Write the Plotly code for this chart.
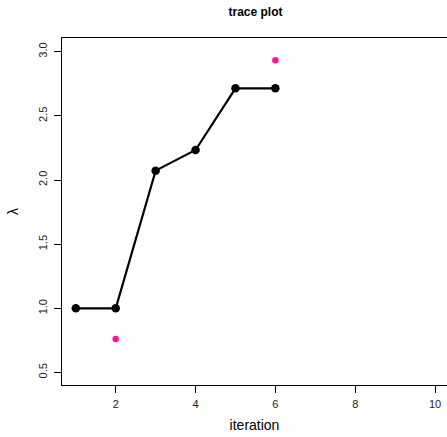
import plotly.graph_objects as go

iterations = [1, 2, 3, 4, 5, 6]
lam_values = [1.0, 1.0, 2.073, 2.234, 2.715, 2.715]
prop_iter = [2, 6]
prop_values = [0.761, 2.933]

fig = go.Figure()
fig.add_trace(go.Scatter(x=iterations, y=lam_values, mode="lines+markers",
                         line=dict(color="black", width=2.2),
                         marker=dict(color="black", size=8.5),
                         showlegend=False))
fig.add_trace(go.Scatter(x=prop_iter, y=prop_values, mode="markers",
                         marker=dict(color="#FF1493", size=6.5),
                         showlegend=False))

font = "Liberation Sans, Arial, sans-serif"
fig.update_layout(
    width=447, height=437,
    margin=dict(l=62, r=0, t=38, b=52),
    paper_bgcolor="white", plot_bgcolor="white",
    font=dict(family=font, color="black", size=11),
    title=dict(text="<b>trace plot</b>", x=(62 + 449) / 2 / 447, xanchor="center",
               y=1 - 12 / 437, yanchor="middle", font=dict(size=12, family=font)),
    xaxis=dict(range=[0.654, 10.30], tickvals=[2, 4, 6, 8, 10],
               showgrid=False, zeroline=False,
               showline=True, linecolor="black", linewidth=1, mirror=True,
               ticks="outside", ticklen=7, tickcolor="black", tickwidth=1,
               ticklabelstandoff=2,
               tickfont=dict(size=11, color="#222"),
               title=dict(text="iteration", font=dict(size=14), standoff=10)),
    yaxis=dict(range=[0.402, 3.107], tickvals=[0.5, 1.0, 1.5, 2.0, 2.5, 3.0],
               ticktext=["0.5", "1.0", "1.5", "2.0", "2.5", "3.0"],
               showgrid=False, zeroline=False,
               showline=True, linecolor="black", linewidth=1,
               ticks="outside", ticklen=7, tickcolor="black", tickwidth=1,
               ticklabelstandoff=3,
               tickangle=-90, tickfont=dict(size=11, color="#222"),
               title=dict(text="λ", font=dict(size=14), standoff=14)),
)

fig.write_html("out.html")
